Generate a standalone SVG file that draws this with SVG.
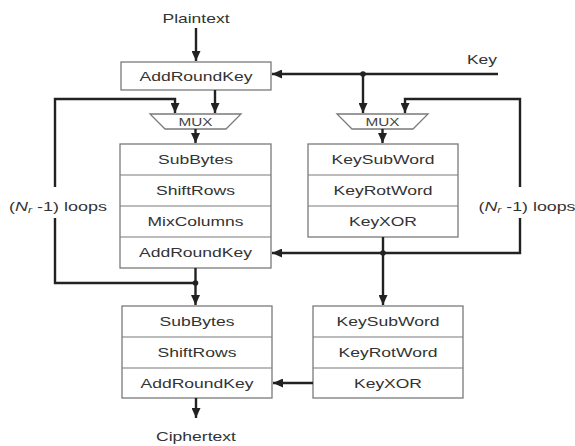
<svg xmlns="http://www.w3.org/2000/svg" width="575" height="446" viewBox="0 0 575 446">
<style>
.box{fill:#fff;stroke:#7a7a7a;stroke-width:1.3}
.sep{stroke:#7a7a7a;stroke-width:1.2}
.t{font-family:"Liberation Sans",Arial,sans-serif;font-size:13px;fill:#333;text-anchor:middle}
.m{font-family:"Liberation Sans",Arial,sans-serif;font-size:11px;fill:#444;text-anchor:middle}
.c{fill:none;stroke:#222;stroke-width:2.4}
.dot{fill:#222}
</style>
<defs>
<marker id="ah" markerUnits="userSpaceOnUse" markerWidth="10" markerHeight="9" refX="10" refY="4.5" orient="auto">
<path d="M0,0 L10,4.5 L0,9 Z" fill="#222"/>
</marker>
</defs>
<rect width="575" height="446" fill="#fff"/>
<text class="t" x="196" y="23" textLength="67" lengthAdjust="spacingAndGlyphs">Plaintext</text>
<text class="t" x="482" y="64" textLength="30" lengthAdjust="spacingAndGlyphs">Key</text>
<g id="ark0">
<rect class="box" x="121" y="62" width="150" height="28"/>
<text class="t" x="196" y="80.5" textLength="113" lengthAdjust="spacingAndGlyphs">AddRoundKey</text>
</g>
<g id="mux1">
<path class="box" d="M150,114 L241,114 L226,129 L165,129 Z"/>
<text class="m" x="195.5" y="125.5" textLength="34" lengthAdjust="spacingAndGlyphs">MUX</text>
</g>
<g id="mux2">
<path class="box" d="M337,114 L428,114 L413,129 L352,129 Z"/>
<text class="m" x="382.5" y="125.5" textLength="34" lengthAdjust="spacingAndGlyphs">MUX</text>
</g>
<g id="round">
<rect class="box" x="120" y="144" width="151" height="124"/>
<line class="sep" x1="120" y1="175" x2="271" y2="175"/>
<line class="sep" x1="120" y1="206" x2="271" y2="206"/>
<line class="sep" x1="120" y1="237" x2="271" y2="237"/>
<text class="t" x="195.5" y="164" textLength="75" lengthAdjust="spacingAndGlyphs">SubBytes</text>
<text class="t" x="195.5" y="195" textLength="79" lengthAdjust="spacingAndGlyphs">ShiftRows</text>
<text class="t" x="195.5" y="226" textLength="96" lengthAdjust="spacingAndGlyphs">MixColumns</text>
<text class="t" x="195.5" y="257" textLength="113" lengthAdjust="spacingAndGlyphs">AddRoundKey</text>
</g>
<g id="keyround">
<rect class="box" x="308" y="144" width="150" height="93"/>
<line class="sep" x1="308" y1="175" x2="458" y2="175"/>
<line class="sep" x1="308" y1="206" x2="458" y2="206"/>
<text class="t" x="383" y="164" textLength="103" lengthAdjust="spacingAndGlyphs">KeySubWord</text>
<text class="t" x="383" y="195" textLength="99" lengthAdjust="spacingAndGlyphs">KeyRotWord</text>
<text class="t" x="383" y="226" textLength="68" lengthAdjust="spacingAndGlyphs">KeyXOR</text>
</g>
<g id="final">
<rect class="box" x="122" y="306" width="150" height="92"/>
<line class="sep" x1="122" y1="337" x2="272" y2="337"/>
<line class="sep" x1="122" y1="368" x2="272" y2="368"/>
<text class="t" x="197" y="326" textLength="75" lengthAdjust="spacingAndGlyphs">SubBytes</text>
<text class="t" x="197" y="357" textLength="79" lengthAdjust="spacingAndGlyphs">ShiftRows</text>
<text class="t" x="197" y="388" textLength="113" lengthAdjust="spacingAndGlyphs">AddRoundKey</text>
</g>
<g id="finalkey">
<rect class="box" x="313" y="306" width="150" height="92"/>
<line class="sep" x1="313" y1="337" x2="463" y2="337"/>
<line class="sep" x1="313" y1="368" x2="463" y2="368"/>
<text class="t" x="388" y="326" textLength="103" lengthAdjust="spacingAndGlyphs">KeySubWord</text>
<text class="t" x="388" y="357" textLength="99" lengthAdjust="spacingAndGlyphs">KeyRotWord</text>
<text class="t" x="388" y="388" textLength="68" lengthAdjust="spacingAndGlyphs">KeyXOR</text>
</g>
<text class="t" x="196" y="441" textLength="80" lengthAdjust="spacingAndGlyphs">Ciphertext</text>
<text class="t" x="58" y="211" textLength="98" lengthAdjust="spacingAndGlyphs">(<tspan font-style="italic">N</tspan><tspan font-style="italic" font-size="9" dy="2">r</tspan><tspan dy="-2"> -1) loops</tspan></text>
<text class="t" x="527" y="211" textLength="97" lengthAdjust="spacingAndGlyphs">(<tspan font-style="italic">N</tspan><tspan font-style="italic" font-size="9" dy="2">r</tspan><tspan dy="-2"> -1) loops</tspan></text>
<g id="connectors">
<path class="c" d="M196,28 V61" marker-end="url(#ah)"/>
<path class="c" d="M498,74 H272" marker-end="url(#ah)"/>
<path class="c" d="M363,74 V113" marker-end="url(#ah)"/>
<path class="c" d="M215,90 V113" marker-end="url(#ah)"/>
<path class="c" d="M55,187 V99 H175 V113" marker-end="url(#ah)"/>
<path class="c" d="M55,218 V283 H195"/>
<path class="c" d="M520,187 V99 H405 V113" marker-end="url(#ah)"/>
<path class="c" d="M520,218 V253 H272" marker-end="url(#ah)"/>
<path class="c" d="M195.5,129 V143" marker-end="url(#ah)"/>
<path class="c" d="M382.5,129 V143" marker-end="url(#ah)"/>
<path class="c" d="M195.5,268 V305" marker-end="url(#ah)"/>
<path class="c" d="M383,237 V305" marker-end="url(#ah)"/>
<path class="c" d="M313,383 H273" marker-end="url(#ah)"/>
<path class="c" d="M196,398 V418" marker-end="url(#ah)"/>
<circle class="dot" cx="363" cy="74" r="2.8"/>
<circle class="dot" cx="195.5" cy="283" r="2.8"/>
<circle class="dot" cx="383" cy="253" r="2.8"/>
</g>
</svg>
